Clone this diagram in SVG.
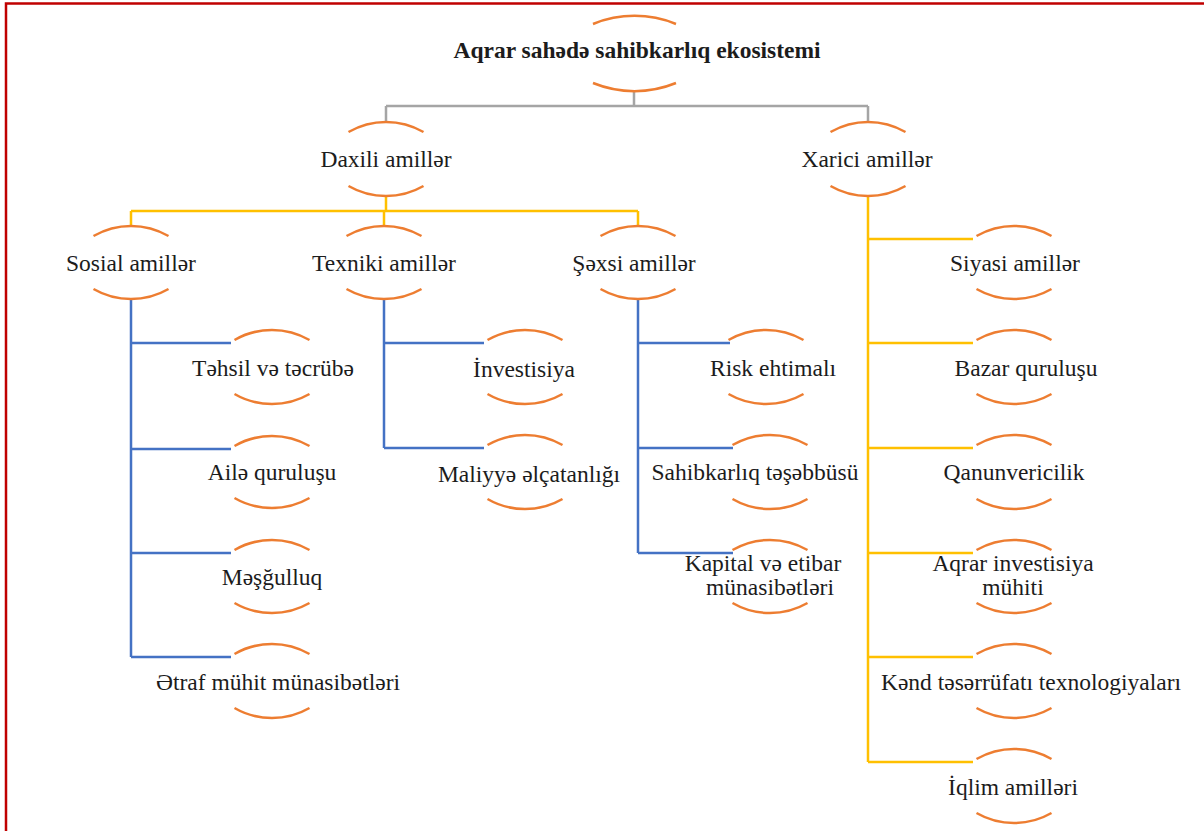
<svg xmlns="http://www.w3.org/2000/svg" width="1204" height="831" viewBox="0 0 1204 831">
<style>
.arc{fill:none;stroke:#ED7D31;stroke-width:2.5}
.t{font-family:"Liberation Serif","Times New Roman",serif;font-size:23.5px;fill:#1c1c1c;text-anchor:middle}
.b{font-weight:bold}
.gray{fill:none;stroke:#A5A5A5;stroke-width:2.5}
.yel{fill:none;stroke:#FFC000;stroke-width:2.5}
.blu{fill:none;stroke:#4472C4;stroke-width:2.5}
</style>
<defs>
<path id="top" class="arc" d="M-37.5,0 A75,75 0 0 1 37.5,0"/>
<path id="bot" class="arc" d="M-37.5,0 A75,75 0 0 0 37.5,0"/>
</defs>
<rect x="0" y="0" width="1204" height="831" fill="#fff"/>
<rect x="6" y="3.5" width="1400" height="1000" fill="none" stroke="#C00000" stroke-width="2.5"/>

<g id="connectors">
<path class="gray" d="M634,90V106M386,106H868M386,106V122M868,106V122"/>
<path class="yel" d="M386,196V211M131,211H638M131,211V226M384,211V226M638,211V226"/>
<path class="yel" d="M868,196V762M868,239H973M868,343H973M868,448H973M868,553H973M868,657H973M868,762H973"/>
<path class="blu" d="M131,299V657M131,343H231M131,449H231M131,553H231M131,657H231"/>
<path class="blu" d="M384,299V448M384,343H484M384,448H484"/>
<path class="blu" d="M638,299V553M638,343H730M638,448H733M638,553H733"/>
</g>

<g id="root">
<path class="arc" d="M593,24 A110,110 0 0 1 676,24"/>
<path class="arc" d="M593,83 A110,110 0 0 0 676,83"/>
<text class="t b" x="637" y="58">Aqrar sahədə sahibkarlıq ekosistemi</text>
</g>
<g id="daxili"><use href="#top" x="386" y="132"/><use href="#bot" x="386" y="186"/><text class="t" x="386" y="167">Daxili amillər</text></g>
<g id="xarici"><use href="#top" x="868" y="132"/><use href="#bot" x="868" y="186"/><text class="t" x="867" y="167">Xarici amillər</text></g>

<g id="sosial"><use href="#top" x="131" y="236"/><use href="#bot" x="131" y="289"/><text class="t" x="131" y="271">Sosial amillər</text></g>
<g id="texniki"><use href="#top" x="384" y="236"/><use href="#bot" x="384" y="289"/><text class="t" x="384" y="271">Texniki amillər</text></g>
<g id="sexsi"><use href="#top" x="638" y="236"/><use href="#bot" x="638" y="289"/><text class="t" x="634" y="271">Şəxsi amillər</text></g>

<g id="tehsil"><use href="#top" x="272" y="340"/><use href="#bot" x="272" y="394"/><text class="t" x="273" y="376">Təhsil və təcrübə</text></g>
<g id="aile"><use href="#top" x="272" y="446"/><use href="#bot" x="272" y="498"/><text class="t" x="272" y="480">Ailə quruluşu</text></g>
<g id="mesgulluq"><use href="#top" x="272" y="550"/><use href="#bot" x="272" y="603"/><text class="t" x="272" y="585">Məşğulluq</text></g>
<g id="etraf"><use href="#top" x="272" y="654"/><use href="#bot" x="272" y="708"/><text class="t" x="278" y="690">Ətraf mühit münasibətləri</text></g>

<g id="investisiya"><use href="#top" x="525" y="340"/><use href="#bot" x="525" y="394"/><text class="t" x="524" y="377">İnvestisiya</text></g>
<g id="maliyye"><use href="#top" x="525" y="445"/><use href="#bot" x="525" y="499"/><text class="t" x="529" y="482">Maliyyə əlçatanlığı</text></g>

<g id="risk"><use href="#top" x="766" y="340"/><use href="#bot" x="766" y="394"/><text class="t" x="773" y="376">Risk ehtimalı</text></g>
<g id="tesebbus"><use href="#top" x="770" y="445"/><use href="#bot" x="770" y="499"/><text class="t" x="755" y="480">Sahibkarlıq təşəbbüsü</text></g>
<g id="kapital"><use href="#top" x="770" y="550"/><use href="#bot" x="770" y="603"/><text class="t" x="763" y="571">Kapital və etibar</text><text class="t" x="770" y="595">münasibətləri</text></g>

<g id="siyasi"><use href="#top" x="1014" y="236"/><use href="#bot" x="1014" y="289"/><text class="t" x="1015" y="271">Siyasi amillər</text></g>
<g id="bazar"><use href="#top" x="1014" y="340"/><use href="#bot" x="1014" y="394"/><text class="t" x="1026" y="376">Bazar quruluşu</text></g>
<g id="qanun"><use href="#top" x="1014" y="445"/><use href="#bot" x="1014" y="499"/><text class="t" x="1014" y="480">Qanunvericilik</text></g>
<g id="aqrar"><use href="#top" x="1014" y="550"/><use href="#bot" x="1014" y="603"/><text class="t" x="1013" y="571">Aqrar investisiya</text><text class="t" x="1013" y="595">mühiti</text></g>
<g id="kend"><use href="#top" x="1014" y="654"/><use href="#bot" x="1014" y="708"/><text class="t" x="1031" y="690">Kənd təsərrüfatı texnologiyaları</text></g>
<g id="iqlim"><use href="#top" x="1014" y="759"/><use href="#bot" x="1014" y="813"/><text class="t" x="1013" y="795">İqlim amilləri</text></g>
</svg>
